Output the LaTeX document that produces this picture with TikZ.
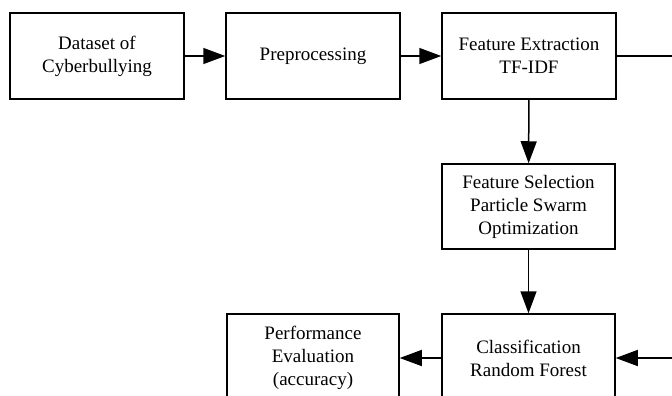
\documentclass[tikz,border=0pt]{standalone}
\usepackage{fontspec}
\setmainfont{Liberation Serif}
\usetikzlibrary{arrows.meta}
\begin{document}
\begin{tikzpicture}[x=1pt,y=-1pt,
  blk/.style={draw, line width=1.5pt, rectangle, align=center, inner sep=2pt,
    font=\fontsize{19}{23}\selectfont},
  topblk/.style={blk, minimum width=174pt, minimum height=86pt},
  conn/.style={line width=1.5pt, -{Triangle[length=22pt,width=16pt]}}]
\useasboundingbox (0,0) rectangle (672,396);
\clip (0,0) rectangle (672,396);
\node[topblk] (ds) at (97,56) {Dataset of\\Cyberbullying};
\node[topblk] (pre) at (313,56) {Preprocessing};
\node[topblk] (fe) at (529,56) {Feature Extraction\\TF-IDF};
\node[blk, minimum width=173pt, minimum height=85pt] (fs) at (528.5,206.5) {Feature Selection\\Particle Swarm\\Optimization};
\node[blk, minimum width=173pt, minimum height=88pt] (cls) at (528.5,358) {Classification\\Random Forest};
\node[blk, minimum width=172pt, minimum height=88pt] (perf) at (313,358) {Performance\\Evaluation\\(accuracy)};
\coordinate (r) at (700,56);
\draw[conn] (ds) -- (pre);
\draw[conn] (pre) -- (fe);
\draw[conn] (fe) -- (fs);
\draw[conn] (fs) -- (cls);
\draw[conn] (cls) -- (perf);
\draw[conn] (fe.east) -- (r) |- (cls.east);
\end{tikzpicture}
\end{document}
